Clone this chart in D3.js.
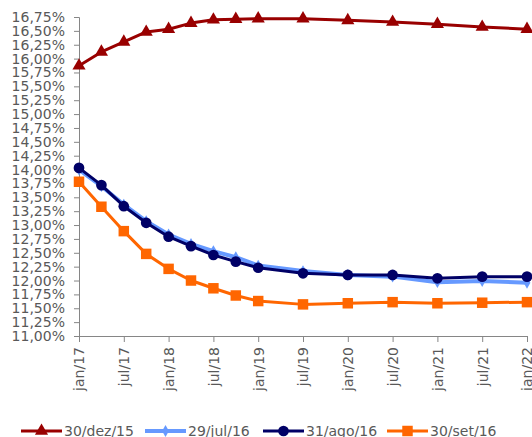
<!DOCTYPE html>
<html>
<head>
<meta charset="utf-8">
<script src="https://cdn.jsdelivr.net/npm/d3@7"></script>
<style>
  body { margin: 0; background: #fff; }
  svg text { font-family: "DejaVu Sans", Verdana, sans-serif; fill: #595959; }
</style>
</head>
<body>
<svg width="532" height="437"></svg>
<script>
// dates of the points (year-month)
const dates = ["2017-01", "2017-04", "2017-07", "2017-10", "2018-01", "2018-04", "2018-07", "2018-10",
  "2019-01", "2019-07", "2020-01", "2020-07", "2021-01", "2021-07", "2022-01"];
const tickLabels = ["jan/17", "jul/17", "jan/18", "jul/18", "jan/19", "jul/19", "jan/20", "jul/20", "jan/21", "jul/21", "jan/22"];
const seriesNames = ["30/dez/15", "29/jul/16", "31/ago/16", "30/set/16"];

const dez15 = [15.87, 16.12, 16.30, 16.48, 16.53, 16.64, 16.70, 16.71, 16.72, 16.72, 16.69, 16.66, 16.62, 16.57, 16.53];
const jul16 = [14.00, 13.70, 13.37, 13.07, 12.83, 12.66, 12.53, 12.42, 12.27, 12.17, 12.10, 12.07, 11.97, 11.99, 11.96];
const ago16 = [14.03, 13.72, 13.34, 13.04, 12.79, 12.62, 12.46, 12.34, 12.23, 12.13, 12.10, 12.10, 12.04, 12.07, 12.07];
const set16 = [13.78, 13.33, 12.89, 12.48, 12.21, 12.00, 11.86, 11.73, 11.63, 11.57, 11.59, 11.61, 11.59, 11.60, 11.61];

const svg = d3.select("svg");
const plotLeft = 79, plotRight = 527, plotTop = 17, plotBottom = 336;

function monthIndex(s) {
  const p = s.split("-");
  return (+p[0] - 2017) * 12 + (+p[1] - 1);
}

const x = d3.scaleLinear().domain([0, 60]).range([plotLeft, plotRight]);
const y = d3.scaleLinear().domain([11, 16.75]).range([plotBottom, plotTop]);

const ptBR = d3.formatLocale({decimal: ",", thousands: ".", grouping: [3], currency: ["R$", ""]});
const fmt = ptBR.format(".2f");

// y axis
const yAxis = svg.append("g")
  .attr("transform", `translate(${plotLeft},0)`)
  .call(d3.axisLeft(y).tickValues(d3.range(11, 16.76, 0.25)).tickFormat(d => fmt(d) + "%").tickSize(5).tickPadding(9));
yAxis.selectAll("text").style("font-size", "14px");

// x axis
const xAxis = svg.append("g")
  .attr("transform", `translate(0,${plotBottom})`)
  .call(d3.axisBottom(x).tickValues(d3.range(0, 61, 6)).tickFormat((d, i) => tickLabels[i]).tickSize(6));
xAxis.selectAll("text")
  .style("font-size", "14px")
  .attr("text-anchor", "end")
  .attr("transform", "rotate(-90)")
  .attr("x", -11)
  .attr("y", 0)
  .attr("dy", "0.35em");

svg.selectAll(".domain, .tick line").attr("stroke", "#868686");

const series = [
  {name: seriesNames[0], values: dez15, color: "#990000", width: 3, marker: "triangle"},
  {name: seriesNames[1], values: jul16, color: "#6699ff", width: 4, marker: "diamond"},
  {name: seriesNames[2], values: ago16, color: "#000066", width: 3, marker: "circle"},
  {name: seriesNames[3], values: set16, color: "#ff6600", width: 3, marker: "square"}
];

const symbols = {
  triangle: d3.symbol().type(d3.symbolTriangle).size(75),
  diamond: d3.symbol().type(d3.symbolDiamond).size(40),
  circle: d3.symbol().type(d3.symbolCircle).size(90),
  square: d3.symbol().type(d3.symbolSquare).size(110)
};

const line = d3.line()
  .x((d, i) => x(monthIndex(dates[i])))
  .y(d => y(d));

series.forEach(s => {
  const g = svg.append("g");
  g.append("path")
    .attr("d", line(s.values))
    .attr("fill", "none")
    .attr("stroke", s.color)
    .attr("stroke-width", s.width)
    .attr("stroke-linejoin", "round");
  g.selectAll("path.mk").data(s.values).enter().append("path")
    .attr("class", "mk")
    .attr("d", symbols[s.marker])
    .attr("transform", (d, i) => `translate(${x(monthIndex(dates[i]))},${y(d)})`)
    .attr("fill", s.color);
});

// legend
const legendX = [21, 145, 263, 387];
const legend = svg.append("g").attr("transform", "translate(0,431)");
series.forEach((s, i) => {
  const g = legend.append("g").attr("transform", `translate(${legendX[i]},0)`);
  g.append("line").attr("x1", 0).attr("x2", 41).attr("y1", 0).attr("y2", 0)
    .attr("stroke", s.color).attr("stroke-width", s.width);
  g.append("path").attr("d", symbols[s.marker]).attr("transform", "translate(20.5,0)").attr("fill", s.color);
  g.append("text").attr("x", 43).attr("y", 0).attr("dy", "0.35em")
    .style("font-size", "14px").text(s.name);
});
</script>
</body>
</html>
